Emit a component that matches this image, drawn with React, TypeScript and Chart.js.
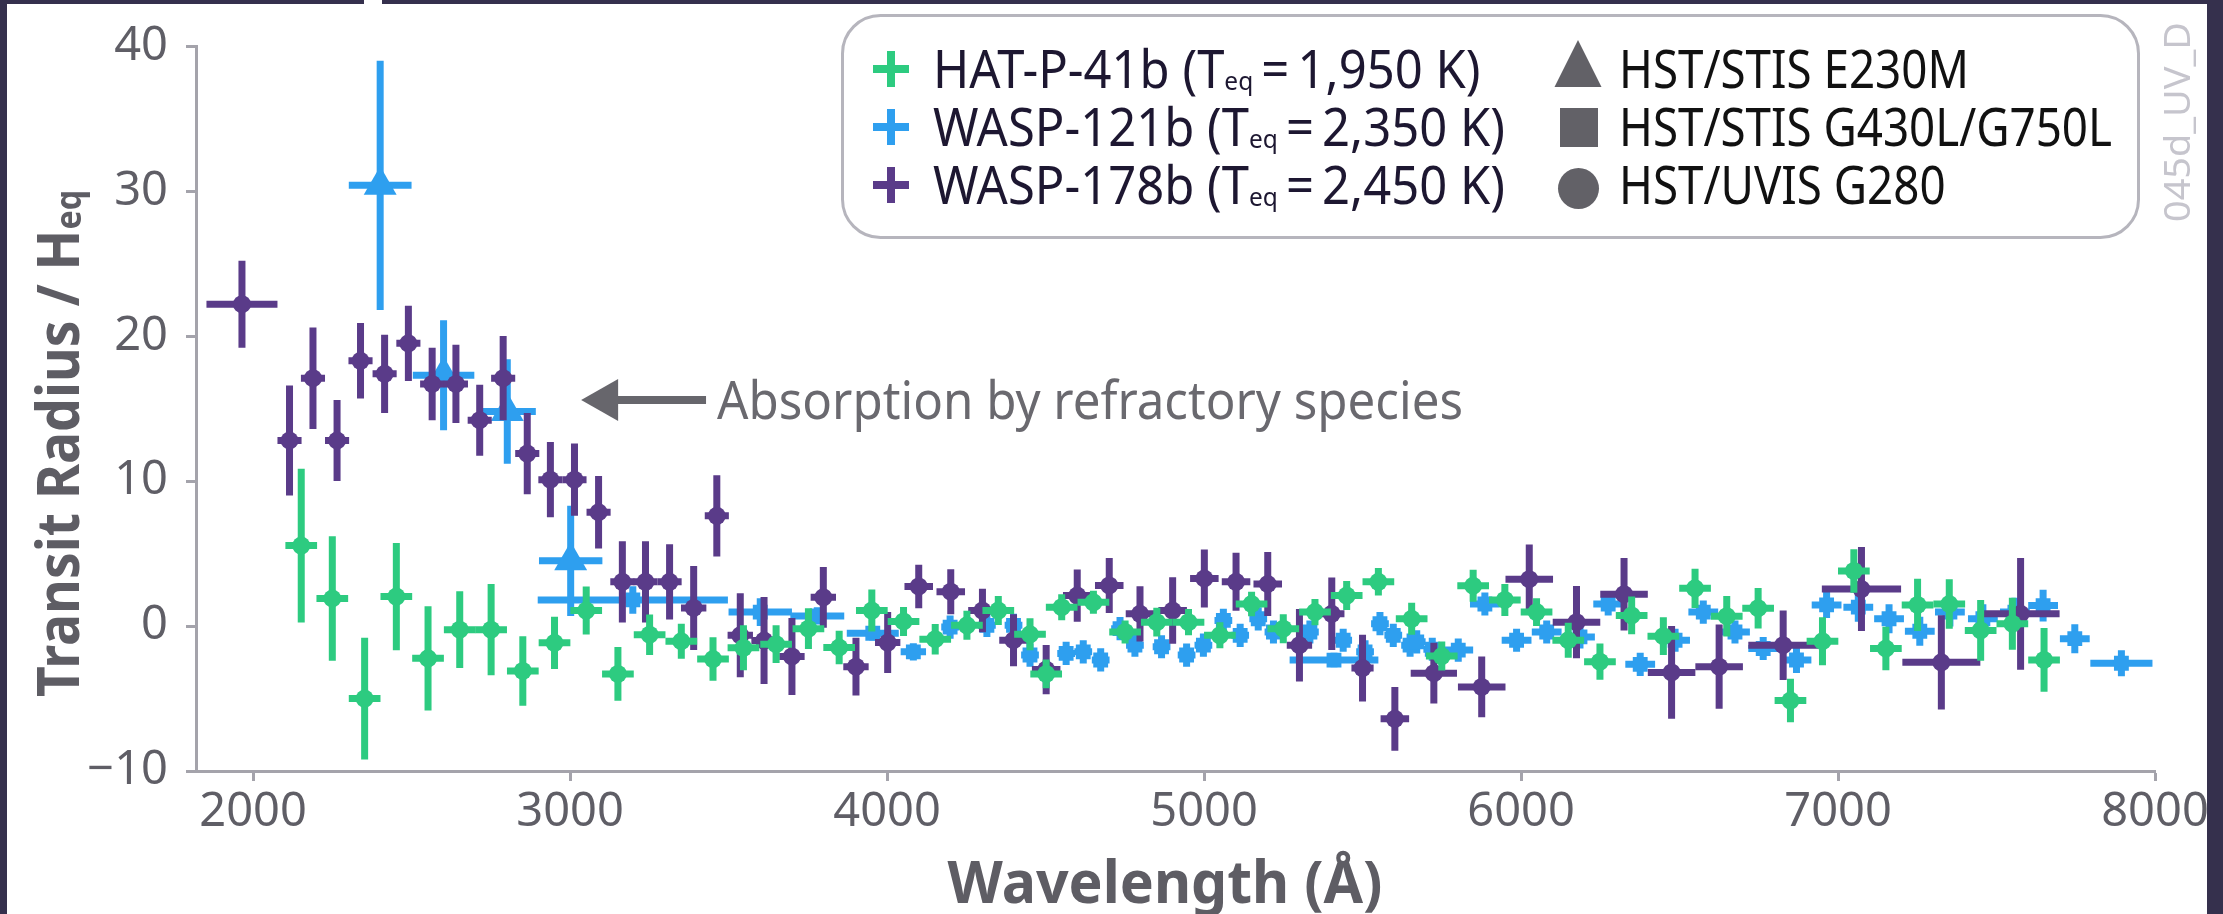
import React, { useEffect, useRef } from 'react';
import { Chart, registerables } from 'chart.js';

Chart.register(...registerables);

// ---------- axis ticks ----------
const xTickValues = [2000, 3000, 4000, 5000, 6000, 7000, 8000];
const yTickValues = [-10, 0, 10, 20, 30, 40];

// ---------- legend text ----------
const seriesNames = ['HAT-P-41b', 'WASP-121b', 'WASP-178b'];
const seriesTeq = ['1,950', '2,350', '2,450'];
const instrumentNames = ['HST/STIS E230M', 'HST/STIS G430L/G750L', 'HST/UVIS G280'];
const annotationText = 'Absorption by refractory species';
const watermarkText = '045d_UV_D';

// ---------- HAT-P-41b (HST/UVIS G280) ----------
const hatWave = [2152, 2250, 2352, 2452, 2552, 2652, 2751, 2851, 2951, 3051, 3151, 3251, 3351, 3451, 3547, 3650, 3752, 3849, 3952, 4052, 4152, 4252, 4351, 4451, 4502, 4551, 4651, 4751, 4851, 4951, 5050, 5150, 5250, 5350, 5450, 5550, 5655, 5750, 5849, 5949, 6049, 6149, 6249, 6349, 6449, 6549, 6649, 6748, 6850, 6951, 7050, 7151, 7251, 7351, 7450, 7550, 7650];
const hatValue = [5.55, 1.9, -5.0, 2.03, -2.23, -0.25, -0.25, -3.1, -1.16, 1.07, -3.3, -0.6, -1.05, -2.28, -1.5, -1.25, -0.18, -1.48, 1.07, 0.32, -0.91, 0.05, 1.07, -0.57, -3.3, 1.3, 1.64, -0.41, 0.27, 0.27, -0.64, 1.52, -0.18, 0.96, 2.1, 3.05, 0.5, -2.07, 2.78, 1.8, 0.96, -0.98, -2.46, 0.73, -0.7, 2.6, 0.68, 1.23, -5.14, -1.05, 3.8, -1.55, 1.46, 1.52, -0.3, 0.16, -2.34];
const hatYErr = [5.3, 4.3, 4.2, 3.7, 3.6, 2.65, 3.15, 2.4, 1.8, 1.65, 1.85, 1.4, 1.2, 1.5, 1.55, 1.3, 1.4, 1.15, 1.45, 1.0, 1.05, 1.0, 1.0, 1.1, 1.0, 0.9, 0.8, 0.8, 1.0, 0.9, 0.9, 0.85, 1.0, 0.9, 1.0, 0.95, 1.1, 1.0, 1.1, 1.1, 0.95, 1.2, 1.25, 1.3, 1.3, 1.35, 1.4, 1.4, 1.5, 1.65, 1.5, 1.5, 1.8, 1.7, 2.1, 1.8, 2.2];
const hatXErr = 50;

// ---------- WASP-178b (HST/UVIS G280) ----------
const w178Wave = [1965, 2115, 2189, 2265, 2339, 2415, 2490, 2565, 2640, 2715, 2789, 2865, 2938, 3014, 3090, 3165, 3238, 3314, 3390, 3463, 3537, 3612, 3700, 3799, 3902, 4002, 4100, 4201, 4301, 4399, 4502, 4600, 4701, 4798, 4901, 5001, 5101, 5201, 5301, 5403, 5500, 5602, 5725, 5876, 6026, 6175, 6325, 6475, 6625, 6827, 7074, 7326, 7576];
const w178Value = [22.2, 12.8, 17.1, 12.8, 18.3, 17.4, 19.5, 16.7, 16.7, 14.2, 17.1, 11.9, 10.1, 10.1, 7.85, 3.05, 3.05, 3.05, 1.25, 7.6, -0.64, -1.0, -2.1, 1.98, -2.8, -1.14, 2.73, 2.37, 1.07, -0.98, -3.0, 2.1, 2.8, 0.84, 1.07, 3.28, 3.05, 2.9, -1.32, 0.84, -2.9, -6.4, -3.25, -4.2, 3.23, 0.27, 2.2, -3.2, -2.8, -1.32, 2.55, -2.5, 0.84];
const w178YErr = [3.0, 3.8, 3.5, 2.8, 2.6, 2.7, 2.6, 2.5, 2.7, 2.45, 2.9, 2.8, 2.6, 2.5, 2.5, 2.8, 2.8, 2.6, 2.9, 2.8, 2.9, 3.0, 2.65, 2.1, 2.0, 2.1, 1.5, 1.55, 1.5, 1.8, 1.7, 1.8, 1.9, 1.9, 2.3, 2.0, 2.0, 2.2, 2.5, 2.5, 2.3, 2.2, 2.1, 2.1, 2.4, 2.5, 2.5, 3.2, 2.9, 2.4, 2.9, 3.25, 3.85];
const w178XErr = [112, 38, 38, 38, 38, 38, 38, 38, 38, 38, 38, 38, 38, 38, 38, 38, 38, 38, 40, 38, 40, 40, 40, 40, 40, 40, 45, 45, 45, 45, 45, 45, 45, 45, 45, 45, 45, 45, 40, 40, 35, 45, 73, 75, 75, 75, 75, 75, 75, 110, 125, 123, 123];

// ---------- WASP-121b (first 4: HST/STIS E230M, rest: HST/STIS G430L/G750L) ----------
const w121E230MCount = 4;
const w121Wave = [2401, 2601, 2802, 3002, 3198, 3600, 3780, 3955, 4083, 4199, 4315, 4399, 4451, 4565, 4619, 4674, 4735, 4782, 4866, 4945, 4998, 5061, 5114, 5171, 5219, 5334, 5410, 5439, 5508, 5555, 5597, 5650, 5671, 5720, 5802, 5886, 5986, 6081, 6186, 6275, 6376, 6486, 6575, 6675, 6764, 6869, 6964, 7064, 7161, 7258, 7353, 7457, 7558, 7647, 7747, 7894];
const w121Value = [30.4, 17.3, 14.8, 4.5, 1.8, 0.96, 0.7, -0.5, -1.78, -0.07, 0.05, 0.05, -2.0, -1.89, -1.78, -2.34, -0.18, -1.32, -1.43, -2.0, -1.32, 0.39, -0.64, 0.5, -0.41, -0.41, -2.35, -0.98, -1.78, 0.16, -0.64, -1.32, -1.09, -1.6, -1.66, 1.52, -0.98, -0.41, -0.75, 1.52, -2.64, -0.98, 0.96, -0.41, -1.55, -2.34, 1.46, 1.3, 0.5, -0.36, 0.96, 0.5, 0.96, 1.41, -0.87, -2.57];
const w121YErr = [8.6, 3.8, 3.6, 3.8, 0.95, 0.95, 0.6, 0.5, 0.6, 0.8, 0.8, 0.8, 0.8, 0.8, 0.8, 0.8, 0.8, 0.8, 0.8, 0.8, 0.8, 0.8, 0.8, 0.8, 0.8, 0.8, 0.5, 0.8, 0.8, 0.8, 0.8, 0.8, 0.8, 0.8, 0.8, 0.8, 0.8, 0.8, 0.8, 0.8, 0.8, 0.8, 0.8, 0.8, 0.8, 0.9, 0.9, 1.0, 1.0, 1.0, 1.0, 1.0, 1.0, 1.1, 1.0, 0.9];
const w121XErr = [99, 97, 90, 100, 300, 100, 85, 82, 40, 28, 28, 28, 28, 28, 28, 28, 28, 28, 28, 28, 28, 28, 28, 28, 28, 28, 140, 28, 28, 28, 28, 28, 28, 28, 47, 47, 47, 47, 47, 47, 47, 47, 47, 47, 47, 47, 47, 47, 47, 47, 47, 47, 47, 47, 47, 98];

// ---------- annotation arrow (data coordinates) ----------
const arrowTail = [3429, 15.6];
const arrowTip = [3035, 15.6];

const GREEN = '#2dcb80';
const BLUE = '#2e9fef';
const PURPLE = '#5a3b89';
const FONT = '"Noto Sans", "Open Sans", sans-serif';

type Part = { t: string; f: string; dy?: number };

function measureParts(ctx: CanvasRenderingContext2D, parts: Part[]) {
  let w = 0;
  for (const p of parts) {
    ctx.font = p.f;
    w += ctx.measureText(p.t).width;
  }
  return w;
}

function drawParts(ctx: CanvasRenderingContext2D, parts: Part[], x: number, y: number, sx: number, rot = 0) {
  ctx.save();
  ctx.translate(x, y);
  if (rot) ctx.rotate(rot);
  ctx.scale(sx, 1);
  ctx.textAlign = 'left';
  ctx.textBaseline = 'alphabetic';
  let cx = 0;
  for (const p of parts) {
    ctx.font = p.f;
    ctx.fillText(p.t, cx, p.dy ?? 0);
    cx += ctx.measureText(p.t).width;
  }
  ctx.restore();
}

const errorBarPlugin = {
  id: 'errorBars',
  beforeDatasetDraw(chart: any, args: any) {
    const ds = chart.data.datasets[args.index];
    const { ctx } = chart;
    const xs = chart.scales.x;
    const ys = chart.scales.y;
    ctx.save();
    ctx.strokeStyle = ds.barColor;
    ctx.lineWidth = 7;
    ctx.lineCap = 'butt';
    for (const p of ds.data) {
      const px = xs.getPixelForValue(p.x);
      const py = ys.getPixelForValue(p.y);
      ctx.beginPath();
      ctx.moveTo(xs.getPixelForValue(p.x - p.xErr), py);
      ctx.lineTo(xs.getPixelForValue(p.x + p.xErr), py);
      ctx.moveTo(px, ys.getPixelForValue(p.y - p.yErr));
      ctx.lineTo(px, ys.getPixelForValue(p.y + p.yErr));
      ctx.stroke();
    }
    ctx.restore();
  },
};

const decorPlugin = {
  id: 'decor',
  afterDraw(chart: any) {
    const ctx: CanvasRenderingContext2D = chart.ctx;
    const xs = chart.scales.x;
    const ys = chart.scales.y;
    ctx.save();

    // axis titles
    ctx.fillStyle = '#5e5d64';
    const yTitle: Part[] = [
      { t: 'Transit Radius / H', f: `bold 60px ${FONT}` },
      { t: 'eq', f: `bold 36px ${FONT}`, dy: 2 },
    ];
    drawParts(ctx, yTitle, 79, 697, 507 / measureParts(ctx, yTitle), -Math.PI / 2);
    const xTitle: Part[] = [{ t: 'Wavelength (Å)', f: `bold 60px ${FONT}` }];
    drawParts(ctx, xTitle, 947.5, 903, 435 / measureParts(ctx, xTitle));

    // annotation arrow
    const tipX = xs.getPixelForValue(arrowTip[0]);
    const tipY = ys.getPixelForValue(arrowTip[1]);
    const tailX = xs.getPixelForValue(arrowTail[0]);
    const tailY = ys.getPixelForValue(arrowTail[1]);
    ctx.strokeStyle = '#67666c';
    ctx.fillStyle = '#67666c';
    ctx.lineWidth = 8;
    ctx.beginPath();
    ctx.moveTo(tailX, tailY);
    ctx.lineTo(tipX + 30, tipY);
    ctx.stroke();
    ctx.beginPath();
    ctx.moveTo(tipX, tipY);
    ctx.lineTo(tipX + 37, tipY - 21);
    ctx.lineTo(tipX + 37, tipY + 21);
    ctx.closePath();
    ctx.fill();
    const ann: Part[] = [{ t: annotationText, f: `52px ${FONT}` }];
    ctx.fillStyle = '#6a696f';
    drawParts(ctx, ann, tailX + 11, tailY + 19.5, 746 / measureParts(ctx, ann));

    // legend box
    ctx.beginPath();
    (ctx as any).roundRect(842.5, 15.5, 1296, 222, 38);
    ctx.fillStyle = '#ffffff';
    ctx.fill();
    ctx.lineWidth = 3;
    ctx.strokeStyle = '#b6b5bd';
    ctx.stroke();

    const colors = [GREEN, BLUE, PURPLE];
    const baselines = [88, 146, 204];
    const rowParts = seriesNames.map((n, i) => [
      { t: `${n} (T`, f: `52px ${FONT}` },
      { t: 'eq', f: `26px ${FONT}`, dy: 2 },
      { t: `\u2009=\u2009${seriesTeq[i]} K)`, f: `52px ${FONT}` },
    ] as Part[]);
    const sxSeries = 572 / measureParts(ctx, rowParts[1]);
    rowParts.forEach((parts, i) => {
      const cy = baselines[i] - 19;
      ctx.fillStyle = colors[i];
      ctx.fillRect(891 - 18, cy - 4, 36, 8);
      ctx.fillRect(891 - 4, cy - 18, 8, 36);
      ctx.fillStyle = '#1d1731';
      drawParts(ctx, parts, 933, baselines[i], sxSeries);
    });

    const instParts = instrumentNames.map((n) => [{ t: n, f: `52px ${FONT}` }] as Part[]);
    const sxInst = 493 / measureParts(ctx, instParts[1]);
    ctx.fillStyle = '#626167';
    ctx.beginPath();
    ctx.moveTo(1578, 40);
    ctx.lineTo(1601.5, 87);
    ctx.lineTo(1554.5, 87);
    ctx.closePath();
    ctx.fill();
    ctx.fillRect(1560, 108, 38, 39);
    ctx.beginPath();
    ctx.arc(1578.5, 188.5, 20.5, 0, Math.PI * 2);
    ctx.fill();
    ctx.fillStyle = '#111111';
    instParts.forEach((parts, i) => drawParts(ctx, parts, 1619, baselines[i], sxInst));

    // watermark
    const wm: Part[] = [{ t: watermarkText, f: `36px ${FONT}` }];
    ctx.fillStyle = '#c6c5cd';
    drawParts(ctx, wm, 2190, 222, 200 / measureParts(ctx, wm), -Math.PI / 2);

    ctx.restore();
  },
};

export default function App() {
  const ref = useRef<HTMLCanvasElement>(null);

  useEffect(() => {
    const canvas = ref.current;
    if (!canvas) return;

    const green = hatWave.map((w, i) => ({ x: w, y: hatValue[i], xErr: hatXErr, yErr: hatYErr[i] }));
    const purple = w178Wave.map((w, i) => ({ x: w, y: w178Value[i], xErr: w178XErr[i], yErr: w178YErr[i] }));
    const blue = w121Wave.map((w, i) => ({ x: w, y: w121Value[i], xErr: w121XErr[i], yErr: w121YErr[i] }));

    const tickColor = '#a4a3ab';
    const tickFont = { family: FONT, size: 47 };

    const chart = new Chart(canvas, {
      type: 'scatter',
      data: {
        datasets: [
          {
            label: seriesNames[0],
            data: green,
            barColor: GREEN,
            pointStyle: 'circle',
            pointRadius: 9,
            pointBackgroundColor: GREEN,
            pointBorderWidth: 0,
          } as any,
          {
            label: seriesNames[2],
            data: purple,
            barColor: PURPLE,
            pointStyle: 'circle',
            pointRadius: 9,
            pointBackgroundColor: PURPLE,
            pointBorderWidth: 0,
          } as any,
          {
            label: seriesNames[1],
            data: blue,
            barColor: BLUE,
            pointStyle: (c: any) => (c.dataIndex < w121E230MCount ? 'triangle' : 'rect'),
            pointRadius: (c: any) => (c.dataIndex < w121E230MCount ? 19 : 10.5),
            pointBackgroundColor: BLUE,
            pointBorderWidth: 0,
          } as any,
        ],
      },
      options: {
        responsive: false,
        animation: false,
        devicePixelRatio: 1,
        events: [],
        layout: { padding: { left: 0, top: 39, right: 68, bottom: 0 } },
        plugins: {
          legend: { display: false },
          tooltip: { enabled: false },
          title: { display: false },
        },
        scales: {
          x: {
            type: 'linear',
            min: 1820,
            max: 8000,
            afterBuildTicks: (s: any) => {
              s.ticks = xTickValues.map((v) => ({ value: v }));
            },
            afterFit: (s: any) => {
              s.height = 143;
            },
            ticks: {
              font: tickFont,
              color: '#5f5e66',
              padding: 3,
              maxRotation: 0,
              autoSkip: false,
              callback: (v: any) => String(v),
            },
            grid: {
              display: true,
              drawOnChartArea: false,
              drawTicks: true,
              tickLength: 10,
              tickWidth: 3,
              tickColor,
            },
            border: { display: true, color: tickColor, width: 3 },
          },
          y: {
            type: 'linear',
            min: -10,
            max: 40,
            afterBuildTicks: (s: any) => {
              s.ticks = yTickValues.map((v) => ({ value: v }));
            },
            afterFit: (s: any) => {
              s.width = 196;
            },
            ticks: {
              font: tickFont,
              color: '#5f5e66',
              padding: 18,
              autoSkip: false,
              callback: (v: any) => (v < 0 ? '\u2212' + Math.abs(v) : String(v)),
            },
            grid: {
              display: true,
              drawOnChartArea: false,
              drawTicks: true,
              tickLength: 10,
              tickWidth: 3,
              tickColor,
            },
            border: { display: true, color: tickColor, width: 3 },
          },
        },
      } as any,
      plugins: [errorBarPlugin as any, decorPlugin as any],
    });

    return () => chart.destroy();
  }, []);

  return (
    <div
      style={{
        position: 'fixed',
        left: 0,
        top: 0,
        width: 2223,
        height: 914,
        background: '#35304d',
        overflow: 'hidden',
      }}
    >
      <div style={{ position: 'absolute', left: 7, top: 4, width: 2200, height: 910, background: '#ffffff' }} />
      <div style={{ position: 'absolute', left: 364, top: 0, width: 18, height: 4, background: '#ffffff' }} />
      <canvas
        ref={ref}
        width={2223}
        height={914}
        style={{ position: 'absolute', left: 0, top: 0, width: 2223, height: 914 }}
      />
    </div>
  );
}
